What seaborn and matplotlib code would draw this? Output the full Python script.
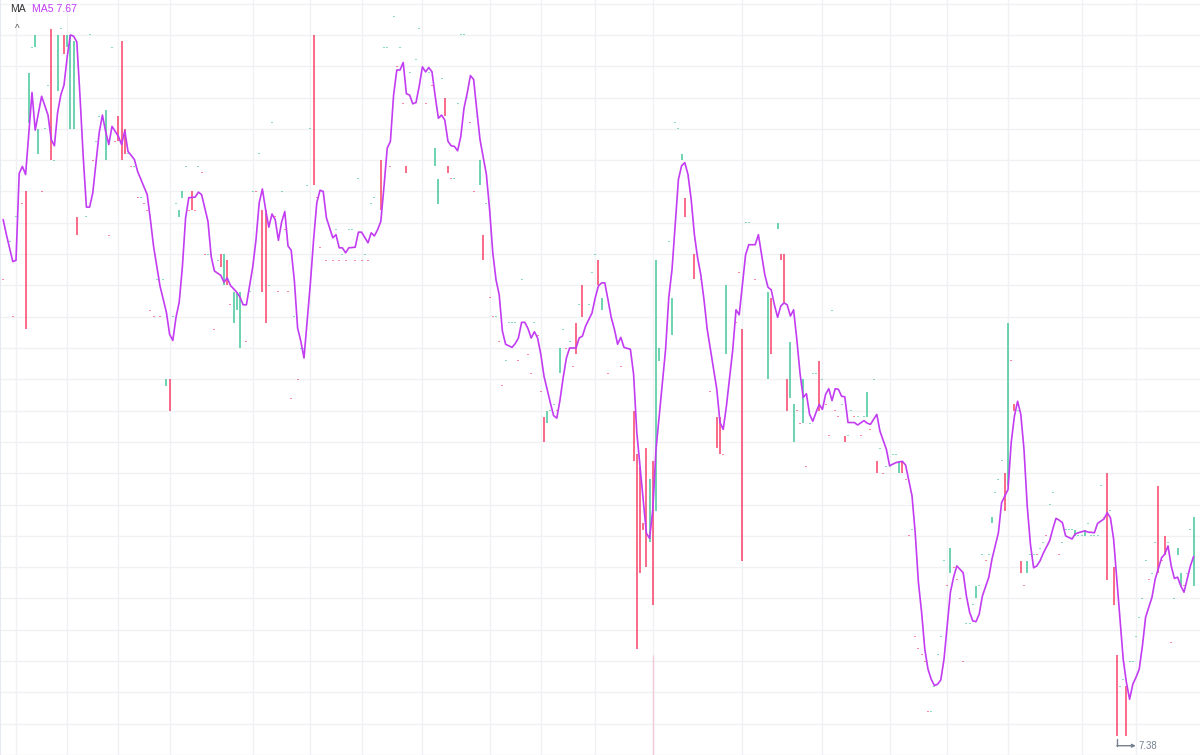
import numpy as np
import matplotlib
matplotlib.use("Agg")
import matplotlib.pyplot as plt
import seaborn as sns
from matplotlib import transforms
from matplotlib.lines import Line2D

# ---------------- data ----------------
# candle bodies: bar index, open, close, up(1)/down(0)
cd_idx = (
    [0,2,3,4,6, 7,8,9,10,11,12,13,14,15,16,17,18,19,20,21,22,23, 26,27,28,29,30,
     32,33,34,35,36,37,38,39,40,41,42,43,44,45,46,47,48,49,50,51,52,53,54,55,56,57,58,59,60,61,62]
    + [63,64,65,66,67,68,69,70,71,72,73,74,75,76,77,78,79,80,81,82,83,84,85,86,87,88,89,90,91,92,
       93,94,95,96,97,98,99,101,102,103,104,105,106,107,108,109,110,111,112,113,114,115,116,
       118,119,120,121,122,123,124]
    + [125,126,127,129,130,132,133,134,135,136,137,138,139,140,141,142,143,144,145,146,147,148,149,
       150,151,152,153,154,155,156,157,158,159,160,161,162,164,165,166,167,168,169,170,171,172,173,
       174,175,176,177,178,179,180,181,183,184,185,186]
    + [187,189,193,197,198,199,200,201,202,203,204,205,208,209,210,211,212,213,216,218,221,223,224,
       225,226,229,230,231,232,233,235,239,240,242,243,244]
    + list(range(245, 329)) + list(range(330, 373))
)
cd_open = (
    [8.11,8.17,8.05,8.21,8.23, 8.25,8.36,8.48,8.48,8.31,8.25,8.35,8.42,8.51,8.30,8.41,8.51,8.50,8.48,8.35,8.35,8.21,
     8.21,8.50,8.30,8.33,8.37,
     8.30,8.18,8.48,8.33,8.37,8.49,8.35,8.31,8.29,8.29,8.24,8.24,8.23,8.22,8.06,8.05,8.11,8.05,8.11,7.94,
     7.95,8.05,8.23,8.21,8.24,8.29,8.22,8.25,8.22,8.29,8.28]
    + [8.15,8.15,8.15,8.03,8.14,8.15,8.10,8.14,8.07,8.04, 8.06,8.00,8.07,8.01,8.09,8.25,8.25,8.31,8.22,8.22,
       8.10,8.36,8.21,8.09,8.25,8.19,8.09,7.92,8.05,7.95, 8.00,8.00,8.26,8.35,8.50,8.24,8.16,
       8.14,8.19,8.14,8.19,8.14,8.15,8.14,8.19,8.19,8.14, 8.27,8.14,8.15,8.14,8.23,8.24,
       8.30,8.48,8.48,8.29,8.53,8.45,8.48]
    + [8.39,8.29,8.44,8.46,8.51, 8.39,8.44,8.42,8.29,8.23,8.43,8.40,8.29,8.27,8.27,
       8.39,8.50,8.50,8.40,8.36,8.25,8.37,8.26,8.18,8.23, 8.08,8.05,8.05,8.01,7.94,7.98,8.04,8.04,8.04,7.98,
       8.11, 7.99,7.96,8.04,8.02,7.93,7.89,7.88,7.90,7.91,7.90, 7.96,8.03,8.00,8.01,7.97,8.04,8.07,8.10,
       8.07,8.12,8.15,8.14]
    + [8.06,7.96,7.97,7.90,7.83,7.81,7.72,7.84,7.69,7.82,7.74,7.98,8.17,8.02,8.36,8.35,8.30,8.24,8.15,8.11,
       7.93,7.89,7.89,7.83,7.99,8.04,8.12,8.03,8.20,8.20,8.11,7.95,8.08,8.19,8.15,8.15]
    + [7.95,7.92,7.85,7.90,7.88,7.88,7.81,7.88,7.96,7.96, 7.98,7.95,7.91,7.86,8.06,7.90,7.89,7.91,7.86,7.86,
       7.90,7.89,7.89,7.86,7.89,7.89,7.87,7.95,7.82,7.84, 7.80,7.81,7.81,7.83,7.83,7.80,7.82,7.79,7.70,7.71,
       7.54,7.52,7.51,7.50,7.42,7.42,7.46,7.51,7.54,7.66, 7.62,7.64,7.65,7.63,7.60,7.50,7.56,7.56,7.59,7.60,
       7.62,7.67,7.66,7.67,7.72,7.77,7.79,7.82,7.80,7.78, 7.98,7.91,7.90,7.66,7.62,7.64,7.67,7.67,7.67,7.68,
       7.69,7.70,7.75,7.77]
    + [7.67,7.69,7.71,7.71,7.71,7.70,7.70,7.70,7.70,7.72, 7.70,7.70,7.70,7.78,7.73,7.80,7.74,7.65,7.51,7.46,
       7.47,7.46,7.50,7.50,7.54,7.57,7.60,7.66,7.63,7.64, 7.69,7.78,7.66,7.70,7.69,7.53,7.60,7.67,7.62,7.62,
       7.64,7.71,7.62]
)
cd_close = (
    [8.11,8.17,8.05,8.21,8.23, 8.03,8.44,8.48,8.50,8.35,8.25,8.35,8.42,8.30,8.30,8.50,8.51,8.47,8.50,8.50,8.49,8.18,
     8.21,8.50,8.30,8.33,8.37,
     8.38,8.18,8.48,8.33,8.33,8.30,8.31,8.31,8.29,8.29,8.24,8.24,8.23,8.22,8.06,8.05,8.11,8.05,8.11,7.95,
     7.90,8.05,8.23,8.22,8.25,8.29,8.22,8.22,8.22,8.29,8.28]
    + [8.15,8.15,8.15,8.03,8.14,8.13,8.15,8.10,8.07,8.09, 8.09,8.09,8.07,8.01,8.09,8.25,8.25,8.31,8.09,8.04,
       8.10,8.36,8.21,8.09,8.25,8.19,8.09,7.92,8.05,7.95, 8.00,8.00,8.26,8.35,8.26,8.24,8.16,
       8.14,8.19,8.14,8.19,8.14,8.15,8.14,8.19,8.19,8.14, 8.27,8.14,8.15,8.14,8.23,8.24,
       8.22,8.48,8.48,8.29,8.53,8.45,8.48]
    + [8.39,8.28,8.44,8.46,8.51, 8.39,8.44,8.42,8.32,8.27,8.43,8.37,8.28,8.27,8.27,
       8.39,8.50,8.50,8.40,8.36,8.25,8.37,8.30,8.14,8.23, 8.08,8.05,8.05,8.01,7.94,7.98,8.04,8.04,8.04,7.98,
       8.11, 7.99,7.96,8.04,8.02,7.93,7.85,7.90,7.90,7.91,7.90, 8.00,8.03,8.00,8.01,7.97,7.99,8.07,8.05,
       8.07,8.12,8.15,8.10]
    + [8.08,7.96,7.97,7.82,7.52,7.64,7.71,7.65,7.79,7.59,8.14,8.00,8.17,8.08,8.36,8.35,8.31,8.21,8.11,8.11,
       7.93,7.84,7.83,7.83,8.10,8.04,8.12,7.66,8.20,8.20,8.11,8.09,7.99,8.20,8.14,8.07]
    + [7.90,8.01,7.91,7.90,7.88,7.95,7.81,7.88,7.96,7.96, 7.90,7.95,7.91,7.86,8.06,7.90,7.89,7.91,7.85,7.86,
       7.90,7.89,7.89,7.86,7.89,7.93,7.87,7.95,7.80,7.84, 7.80,7.81,7.81,7.83,7.83,7.82,7.80,7.79,7.70,7.71,
       7.54,7.52,7.51,7.50,7.42,7.42,7.46,7.51,7.54,7.66, 7.62,7.68,7.65,7.63,7.60,7.50,7.56,7.56,7.59,7.62,
       7.62,7.67,7.66,7.67,7.73,7.77,7.79,7.82,7.74,8.04, 7.98,7.90,7.90,7.64,7.62,7.66,7.67,7.67,7.67,7.68,
       7.69,7.70,7.75,7.77]
    + [7.67,7.69,7.71,7.71,7.71,7.71,7.70,7.70,7.71,7.72, 7.70,7.70,7.70,7.78,7.73,7.63,7.74,7.59,7.38,7.46,
       7.47,7.38,7.50,7.50,7.54,7.57,7.60,7.66,7.63,7.64, 7.69,7.64,7.66,7.67,7.69,7.53,7.60,7.68,7.64,7.62,
       7.64,7.71,7.73]
)
cd_up = (
    [0,1,0,1,0, 0,1,1,1,1,0,1,1,0,1,1,1,0,1,1,1,0, 1,1,0,1,1,
     1,0,1,0,0,0,0,1,0,1, 0,1,0,0,0,0,1,0,1,1, 0,1,1,1,1,1,0,0,0,1, 0]
    + [0,1,1,0,1,0,1,0,0,1, 1,1,0,0,1,1,0,1,0,0, 1,1,0,0,1,0,0,0,1,0, 1,1,1,1,0,0,0,
       0,1,0,1,0,1,0,1,1,0, 1,0,1,0,1,1, 0,1,1,0,1,0,1]
    + [0,0,1,1,1, 0,1,0,1,1,1,0,0,0,1, 1,1,1,1,0,0,1,1,0,1, 0,0,1,0,0,1,1,1,1,0,
       1, 0,0,1,0,0,0,1,1,1,0, 1,1,0,1,0,0,1,0, 1,1,1,0]
    + [1,0,0,0,0,0,0,0,1,0,1,1,1,1,1,1,1,0,0,1,0,0,0,0,1,0,0,0,1,1,0,1,0,1,0,0]
    + [0,1,1,0,0,1,0,1,1,1, 0,1,0,0,1,0,0,1,0,1, 1,0,1,0,1,1,0,1,0,1, 0,1,1,1,1,1,0,0,0,1,
       0,0,0,0,0,1,1,1,1,1, 0,1,0,0,0,0,1,1,1,1, 1,1,0,1,1,1,1,1,0,1, 0,0,1,0,0,1,1,1,0,1,
       1,0,1,1]
    + [0,1,1,1,1,1,1,1,1,1, 1,1,1,1,0,0,1,0,0,1, 1,0,1,1,1,1,1,1,0,1, 1,0,0,0,1,0,1,1,1,0,
       1,1,1]
)

# faint lower shadow of one candle
wick_idx = [203]
wick_hi = [7.51]
wick_lo = [7.30]

# MA5 line (bar index, value)
ma_idx = (
    [0,1,3,4,5,6,7,9,10,12,14,15,16,17,18,19,20,21,22,23,24,25,26,27,28,29,30,31,32,33,34,35,36,37,38,39,
     41,42,45,46,47,49,51,52,53,54,55,56,57,58,60,61,62]
    + [64,65,66,68,69,70,71,73,74,75,76,78,79,80,81,82,83,84,85,86,87,88,89,90,91,92,93,94,95,96,97,98,99,
       100,101,102,103,104,105,106,107,108,110,111,112,114,115,116,117,118,119,120,121,122,123,124]
    + [125,126,127,128,129,130,131,132,133,134,135,136,137,138,139,140,141,142,143,144,145,146,147,148,149,
       151,152,153,154,155,156,157,159,160,161,162,163,164,165,166,167,168,169,171,172,173,174,175,176,177,
       179,180,181,182,184,185,186]
    + [187,188,189,190,191,192,193,194,196,197,198,200,201,202,203,204,206,207,208,209,210,211,212,213,214,
       215,216,217,218,219,220,221,223,224,225,226,228,229,230,231,232,233,235,236,237,238,239,240,241,242]
    + [243,244,245,246,247,248,249,250,251,252,253,254,255,256,257,258,259,260,261,262,263,264,266,267,269,
       270,271,273,274,276,277,279,280,281,282,284,285,286,287,288,289,290,291,292,293,294,295,296,297,298,
       300,301,302,303,304,305,306,308,309,311,312,314,315,316,317,318,319,320,321,322,323,324,325,327,328,
       329,330,331,332,334,335,336,338,339,341,342,344,345,346,347,348,349,350,351,352,353,354,355,356,357,
       359,360,362,363,364,365,366,367,368,369,370,371,372]
)
ma_val = (
    [8.205,8.181,8.138,8.140,8.279,8.290,8.277,8.408,8.348,8.402,8.372,8.333,8.323,8.376,8.404,8.420,8.465,
     8.500,8.498,8.489,8.402,8.306,8.225,8.225,8.248,8.296,8.344,8.372,8.346,8.325,8.354,8.346,8.338,8.325,
     8.347,8.314,8.301,8.282,8.245,8.205,8.162,8.099,8.057,8.022,8.012,8.049,8.073,8.130,8.208,8.240,
     8.241,8.249,8.245]
    + [8.202,8.146,8.123,8.116,8.105,8.112,8.100,8.089,8.081,8.069,8.069,8.130,8.173,8.232,8.254,8.221,8.193,
       8.214,8.205,8.172,8.201,8.218,8.163,8.156,8.107,8.032,8.011,7.984,8.045,8.104,8.173,8.232,8.252,
       8.250,8.208,8.192,8.176,8.181,8.160,8.160,8.152,8.160,8.161,8.185,8.185,8.168,8.184,8.179,8.189,
       8.202,8.258,8.319,8.330,8.404,8.444,8.444]
    + [8.456,8.406,8.404,8.390,8.392,8.418,8.449,8.441,8.448,8.441,8.402,8.367,8.372,8.364,8.330,8.323,8.322,
       8.315,8.338,8.383,8.407,8.435,8.429,8.380,8.333,
       8.277,8.221,8.152,8.109,8.085,8.027,8.006,8.001,8.007,8.016,8.041,8.041,8.031,8.016,8.026,8.016,
       7.990,7.955,7.912,7.892,7.888,7.917,7.953,7.984,8.000,
       8.000,8.016,8.019,8.035,8.056,8.080,8.099]
    + [8.104,8.104,8.077,8.049,8.030,8.006,8.017,8.001,7.998,7.958,7.865,7.758,7.704,7.696,7.742,7.838,
       7.945,7.998,8.081,8.125,8.197,8.269,8.291,8.296,8.277,
       8.237,8.181,8.144,8.117,8.077,8.030,7.998,7.934,7.881,7.870,7.907,7.998,8.061,8.053,8.101,8.149,
       8.165,8.165,8.181,8.149,8.117,8.097,8.093,8.069,8.049]
    + [8.067,8.072,8.069,8.051,8.061,8.014,7.960,7.921,7.927,7.894,7.883,7.897,7.910,7.902,7.926,7.935,
       7.916,7.935,7.934,7.923,7.922,7.881,7.881,7.877,7.884,
       7.880,7.878,7.894,7.867,7.838,7.812,7.817,7.818,7.819,7.813,7.764,7.705,7.626,7.578,7.519,7.487,
       7.471,7.461,7.463,7.470,7.503,7.556,7.610,7.634,7.652,
       7.641,7.604,7.578,7.564,7.563,7.575,7.604,7.634,7.663,7.705,7.753,7.774,7.849,7.891,7.915,7.894,
       7.838,7.748,7.687,7.649,7.652,7.660,7.672,7.692,7.711,
       7.728,7.725,7.721,7.700,7.695,7.703,7.705,7.708,7.706,7.705,7.720,7.727,7.737,7.729,7.695,7.631,
       7.567,7.503,7.466,7.439,7.463,7.474,7.487,7.524,7.570,
       7.602,7.631,7.665,7.671,7.684,7.652,7.632,7.634,7.620,7.610,7.631,7.652,7.667]
)

# vertical grid positions (bar index) and price grid
grid_x = [4, 20, 36, 52, 78, 96, 112, 131, 152, 168, 185, 203, 231, 256, 277, 295, 314, 337, 354]
price_step = 0.05

if not (len(cd_idx) == len(cd_open) == len(cd_close) == len(cd_up)):
    raise ValueError(f"candle lengths {len(cd_idx)} {len(cd_open)} {len(cd_close)} {len(cd_up)}")
if len(ma_idx) != len(ma_val):
    raise ValueError(f"ma lengths {len(ma_idx)} {len(ma_val)}")

# ---------------- style ----------------
sns.set_style("white")
plt.rcParams["font.family"] = ["Liberation Sans", "DejaVu Sans"]

W, H = 1200, 755
fig = plt.figure(figsize=(W / 100, H / 100), dpi=100)
ax = fig.add_axes([0, 0, 1, 1])
ax.set_xlim(-1.0, 374.0)
ax.set_ylim(7.3517, 8.5558)

UP, DOWN = "#2DC08E", "#F92855"
MA_COL = "#C23CF2"
GRID = "#f0f1f5"

ax.set_xticks(grid_x)
ax.set_yticks(np.arange(7.35, 8.5501, price_step))
ax.grid(True, color=GRID, lw=1)
ax.tick_params(length=0, labelbottom=False, labelleft=False)
for s in ax.spines.values():
    s.set_visible(False)
ax.spines["left"].set_visible(True)
ax.spines["left"].set_color("#e6e9ef")
ax.spines["left"].set_linewidth(1.5)
ax.set_axisbelow(True)

o = np.array(cd_open)
c = np.array(cd_close)
px = (8.5558 - 7.3517) / H  # price per pixel
bottom = np.minimum(o, c)
height = np.abs(c - o)
flat = height < 1e-9
bottom = np.where(flat, o - px / 2, bottom)
height = np.where(flat, px, height)
cols = [UP if u else DOWN for u in cd_up]
alphas = np.where(flat, 0.55, 0.68)
for a in (0.55, 0.68):
    m = alphas == a
    ax.bar(np.array(cd_idx)[m], height[m], bottom=bottom[m], width=0.62,
           color=np.array(cols)[m], linewidth=0, alpha=a, zorder=2)

ax.vlines(wick_idx, wick_lo, wick_hi, color=DOWN, alpha=0.2, lw=1.0, zorder=2)

sns.lineplot(x=ma_idx, y=ma_val, ax=ax, color=MA_COL, lw=1.2, estimator=None, sort=False, zorder=3)
ax.set_xlabel("")
ax.set_ylabel("")

# ---------------- texts ----------------
fig.text(10.3 / W, 1 - 11.7 / H, "MA", color="#333333", fontsize=7.6, va="baseline", ha="left")
fig.text(31.5 / W, 1 - 11.7 / H, f"MA5 {ma_val[-1]:.2f}", color=MA_COL, fontsize=7.6,
         va="baseline", ha="left")
fig.text(14.5 / W, 1 - 31.5 / H, "^", color="#555555", fontsize=7, va="baseline", ha="left")

# lowest-price marker
low_pos = int(np.argmin(np.minimum(o, c)))
low_i, low_v = cd_idx[low_pos], min(o[low_pos], c[low_pos])
xd, yd = ax.transData.transform((low_i, low_v))
GRAY = "#76808F"
fig.add_artist(Line2D([xd, xd], [yd - 2.5, yd - 9.5], transform=transforms.IdentityTransform(),
                      color=GRAY, lw=1.0))
ax.annotate("", xy=(xd + 19, yd - 9.5), xytext=(xd, yd - 9.5), xycoords="figure pixels",
            textcoords="figure pixels",
            arrowprops=dict(arrowstyle="-|>", color=GRAY, lw=1.0, mutation_scale=5,
                            shrinkA=0, shrinkB=0))
fig.text((xd + 22) / W, (yd - 9.5) / H, f"{low_v:.2f}", color=GRAY, fontsize=6.9,
         va="center", ha="left")

fig.savefig("out.png", dpi=100)
